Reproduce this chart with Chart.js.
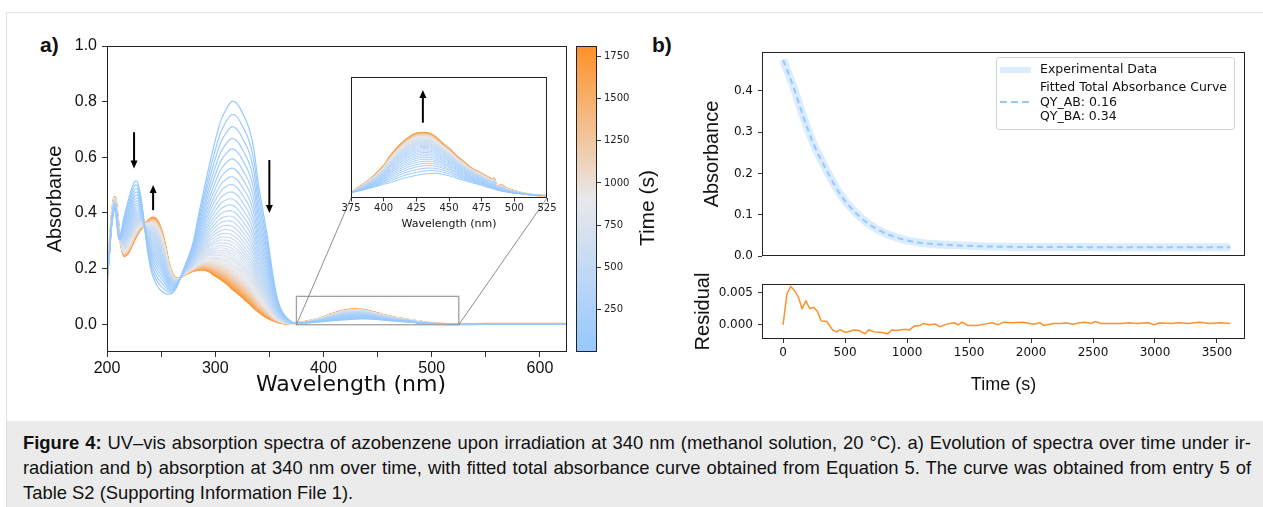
<!DOCTYPE html>
<html>
<head>
<meta charset="utf-8">
<script src="https://cdn.jsdelivr.net/npm/chart.js@4.4.1/dist/chart.umd.min.js"></script>
<style>
  html, body { margin: 0; padding: 0; background: #fff; }
  body { width: 1263px; height: 507px; position: relative; overflow: hidden; font-family: "Liberation Sans", Arial, sans-serif; color: #111; }
  canvas { position: absolute; }
  .figure { position: absolute; left: 6px; top: 12px; width: 1257px; height: 409px; border-top: 1px solid #e2e2e2; border-left: 1px solid #e2e2e2; }
  .panel-label { position: absolute; font: bold 21px "Liberation Sans", Arial, sans-serif; }
  .vlabel { position: absolute; transform: translate(-50%, -50%) rotate(-90deg); white-space: nowrap; font: 21px "Liberation Sans", Arial, sans-serif; }
  #legend { position: absolute; left: 996px; top: 57px; width: 237px; height: 71px; border: 1px solid #d4d4d4; border-radius: 3px; background: rgba(255,255,255,0.85); }
  #legend .txt { position: absolute; left: 43px; font: 12.5px "DejaVu Sans", sans-serif; line-height: 14.5px; white-space: nowrap; color: #111; }
  #legend .band { position: absolute; left: 3px; top: 9px; width: 31px; height: 6px; background: rgba(150,200,255,0.35); }
  #legend .dash { position: absolute; left: 3px; top: 43px; width: 31px; height: 2px; background: repeating-linear-gradient(90deg, rgb(150,200,255) 0 7px, transparent 7px 11px); }
  .caption { position: absolute; left: 6px; top: 421px; width: 1257px; height: 86px; background: #ebebeb; border-left: 1px solid #dcdcdc; }
  .caption .line { position: absolute; left: 16px; font: 18.4px/25px "Liberation Sans", Arial, sans-serif; white-space: nowrap; color: #111; }
  .caption .just { width: 1228px; text-align: justify; text-align-last: justify; white-space: normal; }
</style>
</head>
<body>
<div class="figure"></div>
<div class="panel-label" style="left:40px;top:33px">a)</div>
<div class="panel-label" style="left:652px;top:33px">b)</div>

<canvas id="spectra" width="540" height="370" style="left:40px;top:30px"></canvas>
<canvas id="inset" width="220" height="165" style="left:340px;top:70px"></canvas>
<canvas id="colorbar" width="110" height="340" style="left:560px;top:30px"></canvas>
<div class="vlabel" style="left:647px;top:208px">Time (s)</div>

<canvas id="kinetics" width="600" height="240" style="left:660px;top:30px"></canvas>
<canvas id="residual" width="600" height="130" style="left:660px;top:270px"></canvas>
<div id="legend">
  <span class="band"></span>
  <div class="txt" style="top:4px">Experimental Data</div>
  <span class="dash"></span>
  <div class="txt" style="top:22px">Fitted Total Absorbance Curve<br>QY_AB: 0.16<br>QY_BA: 0.34</div>
</div>

<div class="caption">
  <div class="line just" style="top:9px"><b>Figure 4:</b> UV–vis absorption spectra of azobenzene upon irradiation at 340 nm (methanol solution, 20 °C). a) Evolution of spectra over time under ir-</div>
  <div class="line just" style="top:34px">radiation and b) absorption at 340 nm over time, with fitted total absorbance curve obtained from Equation 5. The curve was obtained from entry 5 of</div>
  <div class="line" style="top:59px">Table S2 (Supporting Information File 1).</div>
</div>

<script>
// ---- panel a: spectra (first = t 0 s, last = end of irradiation)
const wavelengths = [
  200, 202, 204, 206, 207, 208, 210, 211, 212, 214, 216, 218, 220, 222, 225, 227, 229, 232, 235, 238,
  241, 243, 246, 250, 254, 257, 260, 264, 268, 272, 276, 280, 285, 290, 295, 300, 305, 310, 313, 316,
  319, 322, 326, 330, 333, 336, 340, 344, 348, 352, 356, 360, 365, 370, 375, 385, 392, 400, 405, 412,
  418, 425, 430, 435, 440, 445, 451, 456, 461, 467, 474, 479, 483, 484.5, 486.5, 489.8, 494, 500, 505, 515,
  525, 550, 575, 600, 625
];
const spectrumStart = [
  0.150, 0.240, 0.340, 0.400, 0.410, 0.400, 0.330, 0.305, 0.305, 0.350, 0.390, 0.420, 0.450, 0.478, 0.508, 0.515, 0.500, 0.440, 0.340, 0.250,
  0.190, 0.165, 0.140, 0.120, 0.110, 0.108, 0.110, 0.130, 0.168, 0.210, 0.250, 0.300, 0.400, 0.490, 0.580, 0.660, 0.730, 0.772, 0.792, 0.802,
  0.797, 0.783, 0.752, 0.718, 0.680, 0.620, 0.500, 0.410, 0.320, 0.210, 0.115, 0.060, 0.028, 0.010, 0.003, 0.005, 0.007, 0.0095, 0.011, 0.0135,
  0.0155, 0.017, 0.0182, 0.0186, 0.0188, 0.018, 0.0165, 0.0146, 0.013, 0.011, 0.009, 0.0072, 0.006, 0.0055, 0.0047, 0.0038, 0.003, 0.002, 0.0015, 0.0005,
  0.0, 0.0, 0.0, 0.0, 0.0
];
const spectrumEnd = [
  0.150, 0.260, 0.370, 0.445, 0.457, 0.450, 0.380, 0.345, 0.310, 0.265, 0.245, 0.250, 0.260, 0.275, 0.300, 0.315, 0.330, 0.345, 0.360, 0.372,
  0.381, 0.383, 0.375, 0.340, 0.280, 0.220, 0.185, 0.165, 0.168, 0.178, 0.186, 0.192, 0.196, 0.196, 0.188, 0.175, 0.162, 0.148, 0.138, 0.127,
  0.118, 0.108, 0.094, 0.080, 0.070, 0.058, 0.045, 0.034, 0.024, 0.016, 0.010, 0.005, 0.002, 0.001, 0.003, 0.010, 0.016, 0.025, 0.033, 0.042,
  0.048, 0.0525, 0.053, 0.0525, 0.049, 0.044, 0.0385, 0.033, 0.0286, 0.023, 0.019, 0.016, 0.0138, 0.0146, 0.0075, 0.009, 0.006, 0.004, 0.0025, 0.0005,
  0.0, 0.001, 0.001, 0.001, 0.001
];
// time of each recorded spectrum and its absorbance at the 316 nm maximum
const spectrumTimes = [
  0, 30, 60, 90, 120, 150, 180, 210, 240, 270, 300, 330, 360, 390, 420, 450, 480, 510, 540, 570,
  600, 630, 660, 690, 720, 750, 780, 810, 840, 870, 900, 930, 960, 990, 1020, 1050, 1080, 1110, 1140, 1170,
  1200, 1230, 1260, 1290, 1320, 1350, 1380, 1410, 1440, 1470, 1500, 1530, 1560, 1590, 1620, 1650, 1680, 1710, 1740, 1770,
  1800
];
const peak316 = [
  0.802, 0.754, 0.710, 0.668, 0.630, 0.594, 0.561, 0.530, 0.502, 0.475, 0.450, 0.427, 0.406, 0.386, 0.368, 0.351, 0.335, 0.320, 0.306, 0.294,
  0.282, 0.271, 0.261, 0.251, 0.242, 0.234, 0.227, 0.219, 0.213, 0.207, 0.201, 0.196, 0.191, 0.186, 0.182, 0.178, 0.175, 0.171, 0.168, 0.165,
  0.162, 0.160, 0.158, 0.155, 0.153, 0.151, 0.149, 0.147, 0.145, 0.143, 0.141, 0.139, 0.137, 0.136, 0.134, 0.133, 0.132, 0.131, 0.130, 0.129,
  0.127
];

const spectraXTicks = [200, 250, 300, 350, 400, 450, 500, 550, 600];
const spectraYTicks = [0.0, 0.2, 0.4, 0.6, 0.8, 1.0];
const insetXTicks = [375, 400, 425, 450, 475, 500, 525];
const colorbarTicks = [250, 500, 750, 1000, 1250, 1500, 1750];

// ---- panel b: absorbance at 340 nm and residual
const kineticTimes = [0, 83, 164, 245, 352, 460, 567, 675, 782, 944, 1105, 1320, 1589, 1911, 2400, 3000, 3607];
const measuredAbs = [0.475, 0.410, 0.337, 0.272, 0.207, 0.150, 0.110, 0.081, 0.061, 0.042, 0.032, 0.027, 0.0235, 0.022, 0.0215, 0.021, 0.021];
const fittedAbs = [0.475, 0.410, 0.337, 0.272, 0.207, 0.150, 0.110, 0.081, 0.061, 0.042, 0.032, 0.027, 0.0235, 0.022, 0.0215, 0.021, 0.021];
const residualTimes = [
  0, 31, 61, 92, 123, 153, 184, 215, 245, 276,
  307, 353, 399, 430, 460, 506, 568, 614, 660, 690,
  737, 798, 844, 875, 921, 982, 1019, 1059, 1105, 1130,
  1182, 1228, 1265, 1320, 1381, 1412, 1443, 1489, 1565, 1627,
  1688, 1734, 1780, 1842, 1934, 2026, 2072, 2103, 2179, 2241,
  2287, 2333, 2394, 2440, 2486, 2517, 2563, 2640, 2732, 2793,
  2855, 2947, 2993, 3039, 3131, 3192, 3269, 3361, 3438, 3530,
  3607
];
const residualValues = [
  0, 0.0048, 0.0059, 0.0053, 0.0043, 0.0025, 0.0037, 0.0025, 0.0027, 0.0021,
  0.0006, 0.0005, -0.0008, -0.0011, -0.0008, -0.0012, -0.0008, -0.0009, -0.0014, -0.0008,
  -0.0011, -0.0012, -0.0014, -0.0008, -0.0009, -0.0007, -0.0008, -0.0002, -0.0001, 0.0002,
  0.0, 0.0001, -0.0003, 0.0001, 0.0003, 0.0, 0.0004, -0.0001, -0.0001, 0.0001,
  0.0003, 0.0, 0.0004, 0.0003, 0.0004, 0.0001, 0.0003, -0.0001, 0.0002, 0.0002,
  0.0003, 0.0001, 0.0003, 0.0004, 0.0002, 0.0005, 0.0002, 0.0002, 0.0002, 0.0003,
  0.0002, 0.0003, 0.0, 0.0003, 0.0002, 0.0003, 0.0002, 0.0004, 0.0002, 0.0003,
  0.0002
];
const kineticYTicks = [0.0, 0.1, 0.2, 0.3, 0.4];
const residualYTicks = [0.0, 0.005];
const timeTicks = [0, 500, 1000, 1500, 2000, 2500, 3000, 3500];

// arrows: [wavelength, from absorbance, to absorbance]
const spectraArrows = [[225, 0.69, 0.56], [242.6, 0.41, 0.50], [350, 0.59, 0.40]];
const insetArrows = [[430, 0.0615, 0.089]];

const CB_MIN = 0, CB_MAX = 1810;
const INSET = { xMin: 375, xMax: 525, yMin: -0.002, yMax: 0.1 };
const cmapStops = [[0, [150, 200, 255]], [0.5, [232, 232, 235]], [1, [255, 145, 40]]];

const SANS = "'Liberation Sans', Arial, sans-serif";
const DEJAVU = "'DejaVu Sans', sans-serif";
Chart.defaults.font.family = DEJAVU;
Chart.defaults.color = '#111';

function cmap(f) {
  f = Math.min(1, Math.max(0, f));
  for (let i = 1; i < cmapStops.length; i++) {
    const [f0, c0] = cmapStops[i - 1];
    const [f1, c1] = cmapStops[i];
    if (f <= f1) {
      const t = (f - f0) / (f1 - f0);
      const c = c0.map((v, k) => Math.round(v + (c1[k] - v) * t));
      return `rgb(${c[0]}, ${c[1]}, ${c[2]})`;
    }
  }
  return 'rgb(255, 145, 40)';
}

function setTicks(values) {
  return scale => { scale.ticks = values.map(v => ({ value: v })); };
}

const frame = {
  id: 'frame',
  afterDraw(chart) {
    const { ctx, chartArea: a } = chart;
    ctx.save();
    ctx.strokeStyle = '#222';
    ctx.lineWidth = 1;
    ctx.strokeRect(Math.round(a.left) + 0.5, Math.round(a.top) + 0.5, Math.round(a.width) - 1, Math.round(a.height) - 1);
    ctx.restore();
  }
};

function drawArrow(ctx, px, yFrom, yTo) {
  const dir = Math.sign(yTo - yFrom);
  ctx.strokeStyle = '#000';
  ctx.fillStyle = '#000';
  ctx.lineWidth = 2;
  ctx.beginPath();
  ctx.moveTo(px, yFrom);
  ctx.lineTo(px, yTo - dir * 7);
  ctx.stroke();
  ctx.beginPath();
  ctx.moveTo(px, yTo);
  ctx.lineTo(px - 3.5, yTo - dir * 8);
  ctx.lineTo(px + 3.5, yTo - dir * 8);
  ctx.closePath();
  ctx.fill();
}

function arrowPlugin(list) {
  return {
    id: 'arrows',
    afterDatasetsDraw(chart) {
      const { ctx, scales: { x, y } } = chart;
      ctx.save();
      list.forEach(([w, from, to]) => drawArrow(ctx, x.getPixelForValue(w), y.getPixelForValue(from), y.getPixelForValue(to)));
      ctx.restore();
    }
  };
}

// spectra as mixtures of start and end spectra, weighted by the 316 nm reading
const i316 = wavelengths.indexOf(316);
function buildSpectra(thin, thick) {
  return spectrumTimes.map((t, i) => {
    const r = (peak316[i] - spectrumEnd[i316]) / (spectrumStart[i316] - spectrumEnd[i316]);
    const last = i === spectrumTimes.length - 1;
    return {
      data: wavelengths.map((w, k) => ({ x: w, y: spectrumEnd[k] + (spectrumStart[k] - spectrumEnd[k]) * r })),
      borderColor: cmap((t - CB_MIN) / (CB_MAX - CB_MIN)),
      borderWidth: last ? thick : thin,
      cubicInterpolationMode: 'monotone',
      pointRadius: 0
    };
  });
}

const common = {
  responsive: false,
  animation: false,
  devicePixelRatio: 1,
  plugins: { legend: { display: false }, tooltip: { enabled: false } },
  elements: { point: { radius: 0 } }
};

// ---- colorbar
new Chart(document.getElementById('colorbar'), {
  type: 'bar',
  data: {
    labels: ['Time'],
    datasets: [{
      data: [[CB_MIN, CB_MAX]],
      barPercentage: 1,
      categoryPercentage: 1,
      borderWidth: 0,
      backgroundColor: ctx => {
        const area = ctx.chart.chartArea;
        if (!area) return cmap(0.5);
        const g = ctx.chart.ctx.createLinearGradient(0, area.bottom, 0, area.top);
        cmapStops.forEach(([f, c]) => g.addColorStop(f, `rgb(${c[0]}, ${c[1]}, ${c[2]})`));
        return g;
      }
    }]
  },
  options: {
    ...common,
    layout: { padding: { left: 16, top: 16, right: 0, bottom: 18 } },
    scales: {
      x: { display: false },
      y: {
        position: 'right', min: CB_MIN, max: CB_MAX,
        afterBuildTicks: setTicks(colorbarTicks),
        afterFit: s => { s.width = 73; },
        ticks: { callback: v => String(v), font: { size: 10 }, padding: 3, color: '#222' },
        grid: { drawOnChartArea: false, tickLength: 4, tickColor: '#333' },
        border: { display: false }
      }
    }
  },
  plugins: [frame]
});

// ---- inset
const insetCanvas = document.getElementById('inset');
const insetChart = new Chart(insetCanvas, {
  type: 'line',
  data: { datasets: buildSpectra(1, 2) },
  options: {
    ...common,
    layout: { padding: { left: 11, top: 7, right: 13, bottom: 0 } },
    scales: {
      x: {
        type: 'linear', min: INSET.xMin, max: INSET.xMax,
        afterBuildTicks: setTicks(insetXTicks),
        afterFit: s => { s.height = 37; },
        ticks: { font: { size: 10 }, padding: 1, maxRotation: 0, autoSkip: false, color: '#222' },
        grid: { drawOnChartArea: false, tickLength: 3.5, tickColor: '#333' },
        border: { display: false },
        title: { display: true, text: 'Wavelength (nm)', font: { size: 11 }, padding: { top: 0, bottom: 4 } }
      },
      y: { display: false, min: INSET.yMin, max: INSET.yMax }
    }
  },
  plugins: [arrowPlugin(insetArrows), frame]
});

// ---- main spectra
const zoomDecor = {
  id: 'zoomDecor',
  afterDatasetsDraw(chart) {
    const { ctx, scales: { x, y } } = chart;
    const ia = insetChart.chartArea;
    const dx = insetCanvas.offsetLeft - chart.canvas.offsetLeft;
    const dy = insetCanvas.offsetTop - chart.canvas.offsetTop;
    const x0 = x.getPixelForValue(INSET.xMin), x1 = x.getPixelForValue(INSET.xMax);
    const y0 = y.getPixelForValue(INSET.yMin), y1 = y.getPixelForValue(INSET.yMax);
    ctx.save();
    ctx.strokeStyle = '#a0a0a0';
    ctx.lineWidth = 1.3;
    ctx.strokeRect(x0, y1, x1 - x0, y0 - y1);
    ctx.strokeStyle = '#808080';
    ctx.lineWidth = 0.9;
    ctx.beginPath();
    ctx.moveTo(x0, y0); ctx.lineTo(ia.left + dx, ia.bottom + dy);
    ctx.moveTo(x1, y0); ctx.lineTo(ia.right + dx, ia.bottom + dy);
    ctx.stroke();
    ctx.restore();
  }
};

new Chart(document.getElementById('spectra'), {
  type: 'line',
  data: { datasets: buildSpectra(1.2, 2.2) },
  options: {
    ...common,
    layout: { padding: { left: 0, top: 16, right: 13, bottom: 0 } },
    scales: {
      x: {
        type: 'linear', min: 200, max: 625,
        afterBuildTicks: setTicks(spectraXTicks),
        afterFit: s => { s.height = 48; },
        ticks: { callback: v => (v % 100 === 0 ? String(v) : ''), font: { family: SANS, size: 16 }, padding: 2, maxRotation: 0, autoSkip: false },
        grid: { drawOnChartArea: false, tickLength: 5, tickColor: '#333' },
        border: { display: false },
        // leading spaces nudge the title a little right, as in the original
        title: { display: true, text: '    Wavelength (nm)', font: { size: 22 }, padding: { top: 0, bottom: 2 } }
      },
      y: {
        min: -0.1, max: 1.0,
        afterBuildTicks: setTicks(spectraYTicks),
        afterFit: s => { s.width = 67; },
        ticks: { callback: v => v.toFixed(1), font: { family: SANS, size: 16 }, padding: 5 },
        grid: { drawOnChartArea: false, tickLength: 5, tickColor: '#333' },
        border: { display: false },
        title: { display: true, text: 'Absorbance', font: { family: SANS, size: 20 }, padding: { top: 3, bottom: 0 } }
      }
    }
  },
  plugins: [zoomDecor, arrowPlugin(spectraArrows), frame]
});

// ---- panel b
const timeRange = { min: -170, max: 3726 };

new Chart(document.getElementById('kinetics'), {
  type: 'line',
  data: {
    datasets: [
      {
        label: 'Experimental Data',
        data: kineticTimes.map((t, i) => ({ x: t, y: measuredAbs[i] })),
        borderColor: 'rgba(150, 200, 255, 0.35)',
        borderWidth: 8,
        cubicInterpolationMode: 'monotone'
      },
      {
        label: 'Fitted Total Absorbance Curve',
        data: kineticTimes.map((t, i) => ({ x: t, y: fittedAbs[i] })),
        borderColor: 'rgb(150, 200, 255)',
        borderWidth: 2,
        borderDash: [6, 4],
        cubicInterpolationMode: 'monotone'
      }
    ]
  },
  options: {
    ...common,
    layout: { padding: { left: 0, top: 22, right: 15, bottom: 14 } },
    scales: {
      x: { type: 'linear', display: false, ...timeRange },
      y: {
        min: 0, max: 0.494,
        afterBuildTicks: setTicks(kineticYTicks),
        afterFit: s => { s.width = 102; },
        ticks: { callback: v => v.toFixed(1), font: { size: 12 }, padding: 5 },
        grid: { drawOnChartArea: false, tickLength: 4, tickColor: '#333' },
        border: { display: false },
        title: { display: true, text: 'Absorbance', font: { family: SANS, size: 20 }, padding: { top: 40, bottom: 0 } }
      }
    }
  },
  plugins: [frame]
});

new Chart(document.getElementById('residual'), {
  type: 'line',
  data: {
    datasets: [{
      data: residualTimes.map((t, i) => ({ x: t, y: residualValues[i] })),
      borderColor: 'rgb(255, 145, 40)',
      borderWidth: 1.5,
      tension: 0
    }]
  },
  options: {
    ...common,
    layout: { padding: { left: 0, top: 14, right: 15, bottom: 0 } },
    scales: {
      x: {
        type: 'linear', ...timeRange,
        afterBuildTicks: setTicks(timeTicks),
        afterFit: s => { s.height = 61; },
        ticks: { callback: v => String(v), font: { size: 12 }, padding: 3, maxRotation: 0, autoSkip: false },
        grid: { drawOnChartArea: false, tickLength: 4, tickColor: '#333' },
        border: { display: false },
        title: { display: true, text: 'Time (s)', font: { family: SANS, size: 18 }, padding: { top: 0, bottom: 4 } }
      },
      y: {
        min: -0.0022, max: 0.0063,
        afterBuildTicks: setTicks(residualYTicks),
        afterFit: s => { s.width = 102; },
        ticks: { callback: v => v.toFixed(3), font: { size: 12 }, padding: 5 },
        grid: { drawOnChartArea: false, tickLength: 4, tickColor: '#333' },
        border: { display: false },
        title: { display: true, text: 'Residual', font: { family: SANS, size: 20 }, padding: { top: 31, bottom: 0 } }
      }
    }
  },
  plugins: [frame]
});
</script>
</body>
</html>
